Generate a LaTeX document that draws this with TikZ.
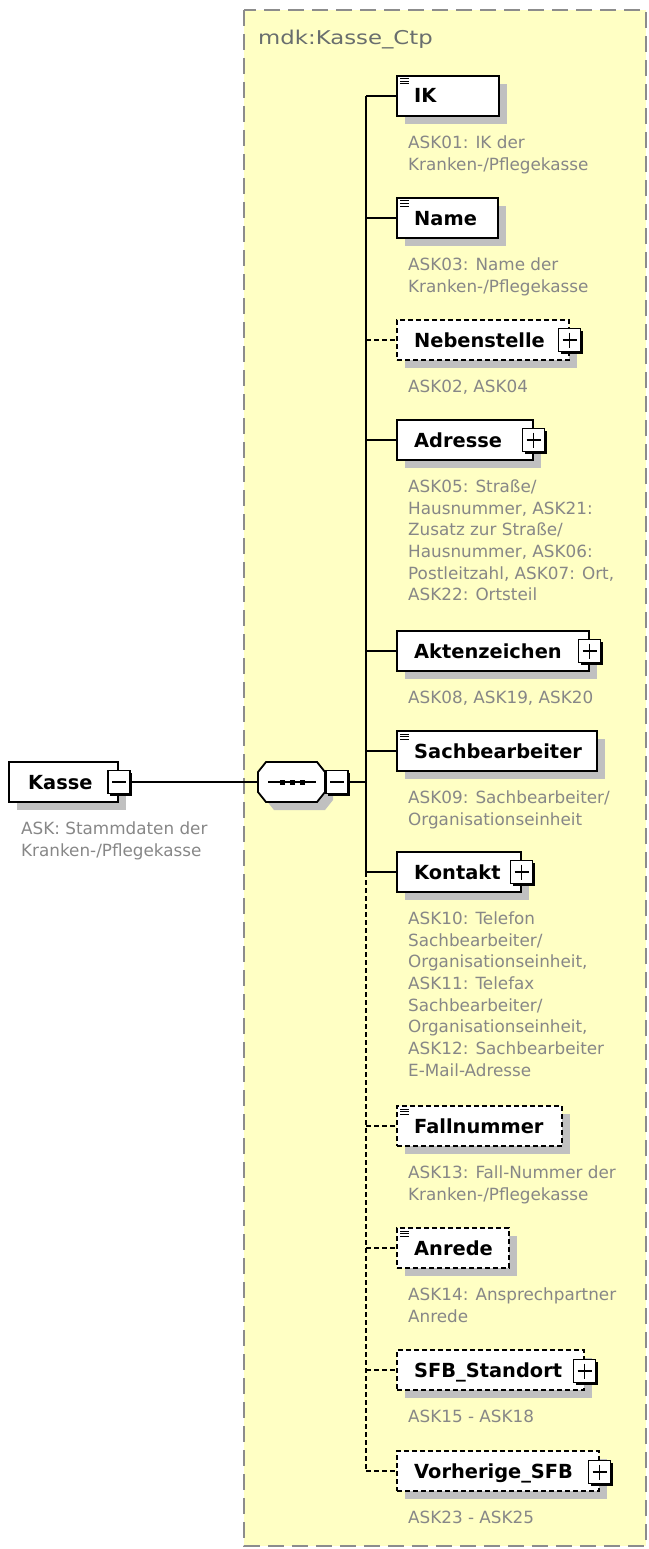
\documentclass[tikz,border=0pt]{standalone}
\usepackage{fontspec}
\setmainfont{DejaVu Sans}
\newfontfamily\titlefam[FakeStretch=1.2]{DejaVu Sans}
\usetikzlibrary{shadows}
\definecolor{yellowbg}{RGB}{255,255,196}
\definecolor{bordergray}{RGB}{140,140,140}
\definecolor{shadowgray}{RGB}{192,192,192}
\definecolor{descgray}{RGB}{135,135,135}
\definecolor{titlegray}{RGB}{105,110,110}
\newcommand\mylbl{\fontsize{19.4}{23}\selectfont\bfseries}
\newcommand\mydesc{\fontsize{16.8}{21.7}\selectfont}
\newcommand\mytitle{\titlefam\fontsize{19}{23}\selectfont}
\tikzset{
  elembox/.style={draw=black, line width=1.8pt, fill=white, rectangle, inner sep=0pt, outer sep=0pt,
    minimum height=40pt, anchor=north west,
    drop shadow={shadow xshift=8pt, shadow yshift=-8pt, fill=shadowgray, draw=none, opacity=1}},
  optbox/.style={elembox, dash pattern=on 5pt off 3pt},
  simpleicon/.style={path picture={
    \draw[line width=1pt, solid] ([xshift=3pt,yshift=-3pt]path picture bounding box.north west) -- ++(9pt,0pt);
    \draw[line width=1pt, solid] ([xshift=3pt,yshift=-5.5pt]path picture bounding box.north west) -- ++(9pt,0pt);
    \draw[line width=1pt, solid] ([xshift=3pt,yshift=-8pt]path picture bounding box.north west) -- ++(9pt,0pt);}},
  xbox/.style={draw=black, fill=white, line width=1.6pt, solid, rectangle, inner sep=0pt, outer sep=0pt,
    minimum width=22pt, minimum height=23pt,
    drop shadow={shadow xshift=2pt, shadow yshift=-2pt, fill=black, draw=none, opacity=1}},
  plusbox/.style={xbox, path picture={
    \draw[line width=1.5pt] ([xshift=4pt]path picture bounding box.west) -- ([xshift=-4pt]path picture bounding box.east);
    \draw[line width=1.5pt] ([yshift=-4pt]path picture bounding box.north) -- ([yshift=4pt]path picture bounding box.south);}},
  minusbox/.style={xbox, path picture={
    \draw[line width=1.5pt] ([xshift=4pt]path picture bounding box.west) -- ([xshift=-4pt]path picture bounding box.east);}},
  lbl/.style={font=\mylbl, text=black, anchor=base west, inner sep=0pt},
  desc/.style={font=\mydesc, text=descgray, anchor=north west, inner sep=0pt, align=left},
  conn/.style={draw=black, line width=1.8pt},
  optconn/.style={conn, dash pattern=on 5pt off 3pt},
}
\begin{document}
\begin{tikzpicture}[x=1pt,y=-1pt]
\useasboundingbox (0,0) rectangle (648,1549);
% complex type frame
\draw[bordergray, line width=2pt, dash pattern=on 16pt off 8pt, fill=yellowbg] (244,10) rectangle (646,1546);
\node[font=\mytitle, text=titlegray, anchor=base west, inner sep=0pt] (title) at (258,45) {mdk:Kasse\_Ctp};

% root element
\node[elembox, minimum width=109pt] (kasse) at (9,762) {};
\node[lbl] (kasse-l) at (28,789) {Kasse};
\node[minusbox] (kasse-x) at (119,782) {};
\node[desc] (kasse-d) at (21,821.5) {ASK: Stammdaten der\\Kranken-/Pflegekasse};

% sequence compositor
\fill[shadowgray, shift={(8,8)}] (266,762) -- (317,762) -- (325,772) -- (325,792) -- (317,802) -- (266,802) -- (258,792) -- (258,772) -- cycle;
\draw[conn, fill=white] (266,762) -- (317,762) -- (325,772) -- (325,792) -- (317,802) -- (266,802) -- (258,792) -- (258,772) -- cycle;
\node[inner sep=0pt, outer sep=0pt, minimum width=67pt, minimum height=40pt] (seq) at (291.5,782) {};
\draw[conn] (268,782) -- (316,782);
\fill (280,779.5) rectangle (285,784.5);
\fill (290,779.5) rectangle (295,784.5);
\fill (300,779.5) rectangle (305,784.5);
\node[minusbox] (seq-x) at (337,782) {};

% spine coordinates
\coordinate (sp-ik) at (366,96);
\coordinate (sp-name) at (366,218);
\coordinate (sp-neb) at (366,340);
\coordinate (sp-adr) at (366,440);
\coordinate (sp-akt) at (366,651);
\coordinate (sp-seq) at (366,782);
\coordinate (sp-sach) at (366,751);
\coordinate (sp-kon) at (366,872);
\coordinate (sp-fall) at (366,1126);
\coordinate (sp-anr) at (366,1248);
\coordinate (sp-sfb) at (366,1370);
\coordinate (sp-vor) at (366,1471);

% elements
\node[elembox, simpleicon, minimum width=102pt] (ik) at (397,76) {};
\node[lbl] (ik-l) at (414,103) {IK};
\node[desc] (ik-d) at (408,135.5) {ASK01: IK der\\Kranken-/Pflegekasse};

\node[elembox, simpleicon, minimum width=101pt] (name) at (397,198) {};
\node[lbl] (name-l) at (414,225) {Name};
\node[desc] (name-d) at (408,257.5) {ASK03: Name der\\Kranken-/Pflegekasse};

\node[optbox, minimum width=172pt] (neb) at (397,320) {};
\node[lbl] (neb-l) at (414,347) {Nebenstelle};
\node[plusbox] (neb-x) at (569.5,340) {};
\node[desc] (neb-d) at (408,379.5) {ASK02, ASK04};

\node[elembox, minimum width=136pt] (adr) at (397,420) {};
\node[lbl] (adr-l) at (414,447) {Adresse};
\node[plusbox] (adr-x) at (533.5,440) {};
\node[desc] (adr-d) at (408,479.5) {ASK05: Straße/\\Hausnummer, ASK21:\\Zusatz zur Straße/\\Hausnummer, ASK06:\\Postleitzahl, ASK07: Ort,\\ASK22: Ortsteil};

\node[elembox, minimum width=192pt] (akt) at (397,631) {};
\node[lbl] (akt-l) at (414,658) {Aktenzeichen};
\node[plusbox] (akt-x) at (589.5,651) {};
\node[desc] (akt-d) at (408,690.5) {ASK08, ASK19, ASK20};

\node[elembox, simpleicon, minimum width=200pt] (sach) at (397,731) {};
\node[lbl] (sach-l) at (414,758) {Sachbearbeiter};
\node[desc] (sach-d) at (408,790.5) {ASK09: Sachbearbeiter/\\Organisationseinheit};

\node[elembox, minimum width=124pt] (kon) at (397,852) {};
\node[lbl] (kon-l) at (414,879) {Kontakt};
\node[plusbox] (kon-x) at (521.5,872) {};
\node[desc] (kon-d) at (408,911.5) {ASK10: Telefon\\Sachbearbeiter/\\Organisationseinheit,\\ASK11: Telefax\\Sachbearbeiter/\\Organisationseinheit,\\ASK12: Sachbearbeiter\\E-Mail-Adresse};

\node[optbox, simpleicon, minimum width=165pt] (fall) at (397,1106) {};
\node[lbl] (fall-l) at (414,1133) {Fallnummer};
\node[desc] (fall-d) at (408,1165.5) {ASK13: Fall-Nummer der\\Kranken-/Pflegekasse};

\node[optbox, simpleicon, minimum width=112pt] (anr) at (397,1228) {};
\node[lbl] (anr-l) at (414,1255) {Anrede};
\node[desc] (anr-d) at (408,1287.5) {ASK14: Ansprechpartner\\Anrede};

\node[optbox, minimum width=187pt] (sfb) at (397,1350) {};
\node[lbl] (sfb-l) at (414,1377) {SFB\_Standort};
\node[plusbox] (sfb-x) at (584.5,1371) {};
\node[desc] (sfb-d) at (408,1409.5) {ASK15 - ASK18};

\node[optbox, minimum width=202pt] (vor) at (397,1451) {};
\node[lbl] (vor-l) at (414,1478) {Vorherige\_SFB};
\node[plusbox] (vor-x) at (599.5,1472) {};
\node[desc] (vor-d) at (408,1510.5) {ASK23 - ASK25};

% connectors
\draw[conn] (kasse-x.east) -- (seq.west);
\draw[conn] (seq-x.east) -- (sp-seq);
\draw[conn] (sp-ik) -- (sp-kon);
\draw[optconn] (sp-kon) -- (sp-vor);
\draw[conn] (sp-ik) -- (ik.west);
\draw[conn] (sp-name) -- (name.west);
\draw[optconn] (sp-neb) -- (neb.west);
\draw[conn] (sp-adr) -- (adr.west);
\draw[conn] (sp-akt) -- (akt.west);
\draw[conn] (sp-sach) -- (sach.west);
\draw[conn] (sp-kon) -- (kon.west);
\draw[optconn] (sp-fall) -- (fall.west);
\draw[optconn] (sp-anr) -- (anr.west);
\draw[optconn] (sp-sfb) -- (sfb.west);
\draw[optconn] (sp-vor) -- (vor.west);
\end{tikzpicture}
\end{document}
